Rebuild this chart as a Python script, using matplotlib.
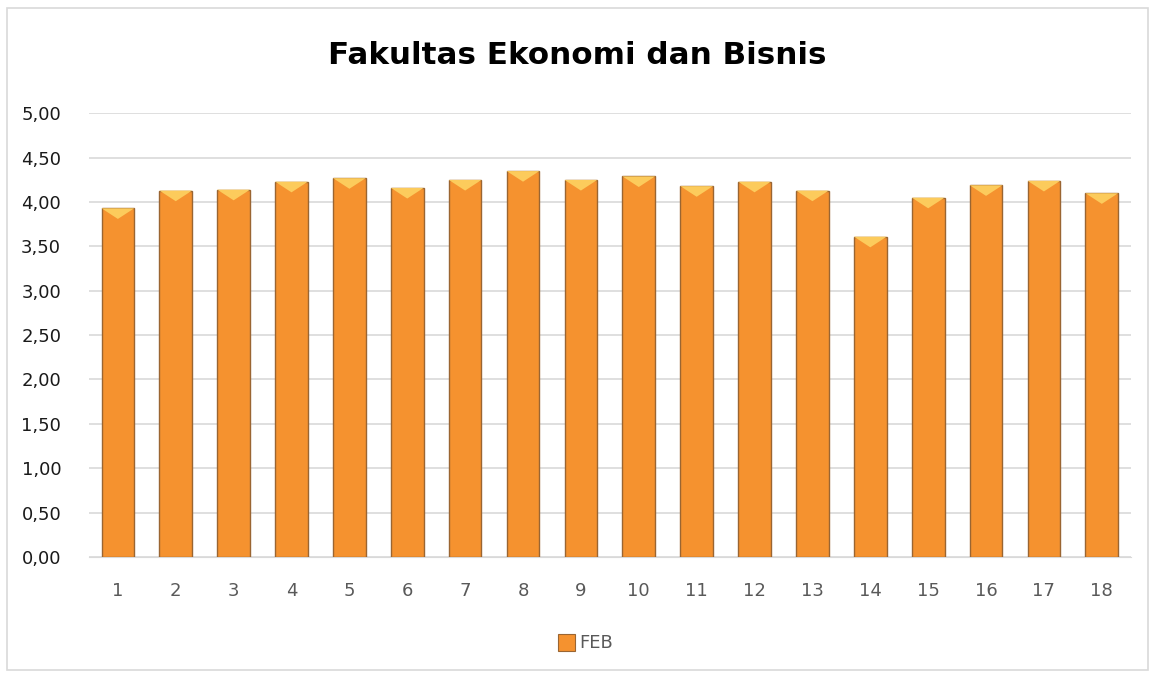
import matplotlib.pyplot as plt
from matplotlib.patches import Polygon, Rectangle
from matplotlib.ticker import FuncFormatter

titulo = "Fakultas Ekonomi dan Bisnis"
kategori = [str(i) for i in range(1, 19)]
nilai = [3.93, 4.13, 4.14, 4.23, 4.27, 4.16, 4.25, 4.35, 4.25,
         4.29, 4.18, 4.23, 4.13, 3.61, 4.05, 4.19, 4.24, 4.10]
seri = "FEB"

warna = "#F5922F"
tepi = "#9A6532"
kuning = "#FCCB5C"

fig = plt.figure(figsize=(11.55, 6.75), dpi=100)
ax = fig.add_axes([0.077, 0.175, 0.902, 0.657])

pos = list(range(len(nilai)))
lebar = 0.565
ax.bar(pos, nilai, width=lebar, color=warna, edgecolor=tepi, linewidth=1.0, zorder=3)

# efek bevel kuning di puncak batang
for x, v in zip(pos, nilai):
    tri = Polygon([(x - lebar / 2, v), (x + lebar / 2, v), (x, v - 0.12)],
                  closed=True, facecolor=kuning, edgecolor="none", zorder=4)
    ax.add_patch(tri)

ax.set_xlim(-0.5, len(nilai) - 0.5)
ax.set_ylim(0, 5)
ax.set_yticks([i * 0.5 for i in range(11)])
ax.yaxis.set_major_formatter(FuncFormatter(lambda v, p: f"{v:.2f}".replace(".", ",")))
ax.set_xticks(pos)
ax.set_xticklabels(kategori)
ax.grid(axis="y", color="#D9D9D9", linewidth=1.2, zorder=0)
for s in ["top", "right", "left"]:
    ax.spines[s].set_visible(False)
ax.spines["bottom"].set_color("#D9D9D9")
ax.tick_params(axis="both", length=0, labelsize=13)
ax.tick_params(axis="x", colors="#595959", pad=18)
ax.tick_params(axis="y", colors="#1A1A1A", pad=20)

fig.text(0.5, 0.918, titulo, ha="center", va="center", fontsize=22.3,
         fontweight="bold", color="#000000")

# legenda
fig.patches.append(Rectangle((0.483, 0.035), 0.0145, 0.026, transform=fig.transFigure,
                             facecolor=warna, edgecolor=tepi, linewidth=0.8))
fig.text(0.5015, 0.048, seri, ha="left", va="center", fontsize=13, color="#595959")

# bingkai chart
fig.patches.append(Rectangle((0.006, 0.008), 0.988, 0.98, transform=fig.transFigure,
                             facecolor="none", edgecolor="#D9D9D9", linewidth=1.2))

fig.savefig("out.png", dpi=100)
